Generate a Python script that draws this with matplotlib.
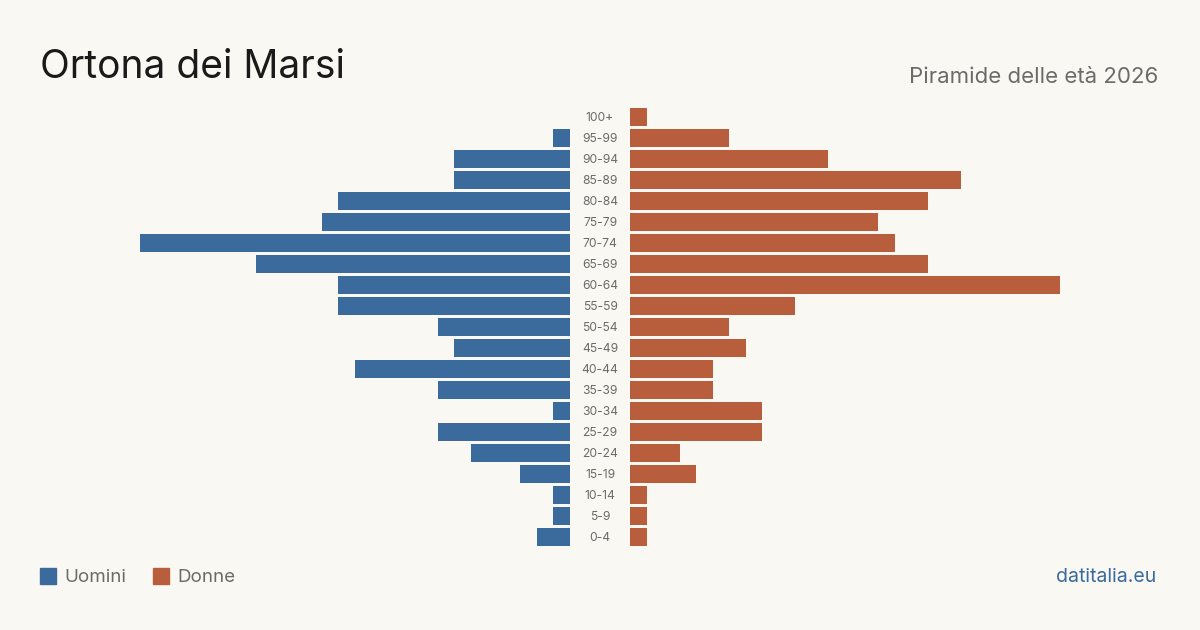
import matplotlib.pyplot as plt

# age groups, top to bottom
ages = ["100+", "95-99", "90-94", "85-89", "80-84", "75-79", "70-74", "65-69",
        "60-64", "55-59", "50-54", "45-49", "40-44", "35-39", "30-34", "25-29",
        "20-24", "15-19", "10-14", "5-9", "0-4"]
uomini = [0, 1, 7, 7, 14, 15, 26, 19, 14, 14, 8, 7, 13, 8, 1, 8, 6, 3, 1, 1, 2]
donne = [1, 6, 12, 20, 18, 15, 16, 18, 26, 10, 6, 7, 5, 5, 8, 8, 3, 4, 1, 1, 1]

blue = "#3b6b9c"
orange = "#b95e3c"
bg = "#f9f8f3"
grey = "#6b6b6b"

plt.rcParams['font.family'] = ['Inter', 'DejaVu Sans']

W, H = 1200, 630
fig = plt.figure(figsize=(12, 6.3), dpi=100, facecolor=bg)

xmax = 26
top, bottom = 106.5, 547.5
ax_h = (bottom - top) / H
ax_y = 1 - bottom / H

axl = fig.add_axes([140 / W, ax_y, 430 / W, ax_h])
axr = fig.add_axes([630 / W, ax_y, 430 / W, ax_h])

ypos = list(range(len(ages)))
for ax in (axl, axr):
    ax.set_facecolor("none")
    ax.set_ylim(len(ages) - 0.5, -0.5)
    ax.axis("off")

axl.barh(ypos, uomini, height=0.81, color=blue)
axl.set_xlim(xmax, 0)
axr.barh(ypos, donne, height=0.81, color=orange)
axr.set_xlim(0, xmax)

# age labels in the gap
for i, a in enumerate(ages):
    axl.annotate(a, xy=(0, i), xytext=(30, -1), textcoords="offset pixels",
                 ha="center", va="center", fontsize=8.7, color=grey)

fig.text(40 / W, 1 - 67 / H, "Ortona dei Marsi", fontsize=28, color="#1a1a1a",
         ha="left", va="center")
fig.text(1158 / W, 1 - 77 / H, "Piramide delle età 2026", fontsize=16, color=grey,
         ha="right", va="center")

# legend
fig.patches.append(plt.Rectangle((40 / W, 1 - 584 / H), 16 / W, 16 / H,
                                 transform=fig.transFigure, color=blue))
fig.text(64 / W, 1 - 577 / H, "Uomini", fontsize=13.5, color=grey, va="center")
fig.patches.append(plt.Rectangle((153 / W, 1 - 584 / H), 16 / W, 16 / H,
                                 transform=fig.transFigure, color=orange))
fig.text(177 / W, 1 - 577 / H, "Donne", fontsize=13.5, color=grey, va="center")

fig.text(1156 / W, 1 - 577 / H, "datitalia.eu", fontsize=14, color=blue,
         ha="right", va="center")

fig.savefig("out.png", dpi=100, facecolor=bg)
